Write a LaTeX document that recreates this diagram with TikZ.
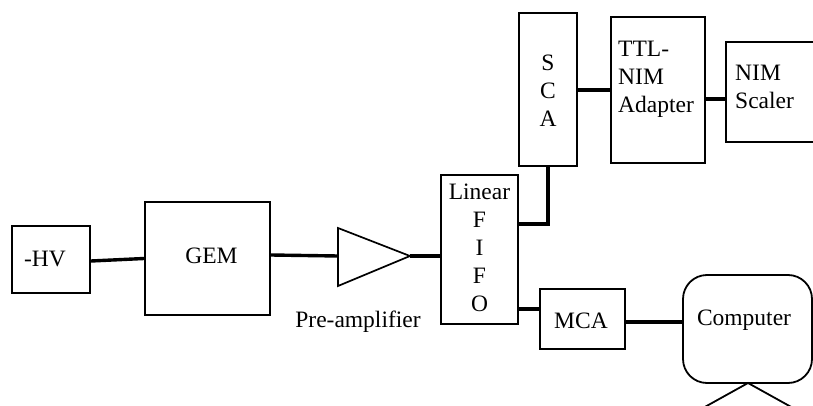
\documentclass[tikz,border=0pt]{standalone}
\usepackage{fontspec}
\setmainfont{Liberation Serif}
\begin{document}
\begin{tikzpicture}[x=1pt,y=-1pt,
  box/.style={draw,line width=2.2pt,inner sep=0pt,minimum width=#1},
  conn/.style={line width=3.4pt},
  txt/.style={inner sep=0pt,font=\fontsize{23.5}{28}\selectfont,align=center},
  txtl/.style={inner sep=0pt,font=\fontsize{23.5}{28}\selectfont,align=left,anchor=west}]
\clip (0,0) rectangle (813,406);
\fill[white] (0,0) rectangle (813,406);
% boxes
\node[box=78pt,minimum height=67pt] (hv) at (51,259.5) {};
\node[txt] (hvt) at (45,259) {-HV};
\node[box=125pt,minimum height=113pt] (gem) at (207.5,258.5) {};
\node[txt] (gemt) at (211.5,256) {GEM};
\node[box=77pt,minimum height=149pt] (fifo) at (479.5,249.5) {};
\node[txt] (fifot) at (479.5,248) {Linear\\F\\I\\F\\O};
\node[box=58pt,minimum height=153pt] (sca) at (548,89.5) {};
\node[txt] (scat) at (548,91) {S\\C\\A};
\node[box=94pt,minimum height=146pt] (ttl) at (658,90) {};
\node[txtl] (ttlt) at (618,79) {TTL-\\NIM\\Adapter};
\node[box=100pt,minimum height=100pt] (nim) at (776,92) {};
\node[txtl] (nimt) at (735,86.5) {NIM\\Scaler};
\node[box=85pt,minimum height=60pt] (mca) at (582.5,319) {};
\node[txt] (mcat) at (581,321) {MCA};
\node[draw,line width=1.8pt,rounded corners=24pt,minimum width=129pt,minimum height=108pt,inner sep=0pt] (comp) at (747.5,329) {};
\node[txt] (compt) at (744,320) {Computer};
% triangle (pre-amplifier)
\coordinate (ta) at (338,228);
\coordinate (tb) at (338,286);
\coordinate (tc) at (410,256);
\draw[line width=1.7pt,line join=miter] (ta) -- (tc) -- (tb) -- cycle;
\node[txt] (pre) at (358,322) {Pre-amplifier};
% computer legs
\coordinate (lg) at (748,383);
\coordinate (l1) at (703,408);
\coordinate (l2) at (793,408);
\draw[line width=1.8pt] (l1) -- (lg) -- (l2);
% connectors
\draw[conn] (hv.east) ++(0,1.5) -- (gem.west);
\draw[conn] (gem.east) ++(0,-3.5) -- (ta |- tc);
\draw[conn] (tc) -- (fifo.west |- tc);
\draw[conn] (fifo.east |- 0,224) -| (sca.south);
\draw[conn] (fifo.east |- 0,309) -- (mca.west |- 0,309);
\draw[conn] (mca.east |- 0,322) -- (comp.west |- 0,322);
\draw[conn] (sca.east |- 0,90) -- (ttl.west |- 0,90);
\draw[conn] (ttl.east |- 0,99) -- (nim.west |- 0,99);
\end{tikzpicture}
\end{document}
